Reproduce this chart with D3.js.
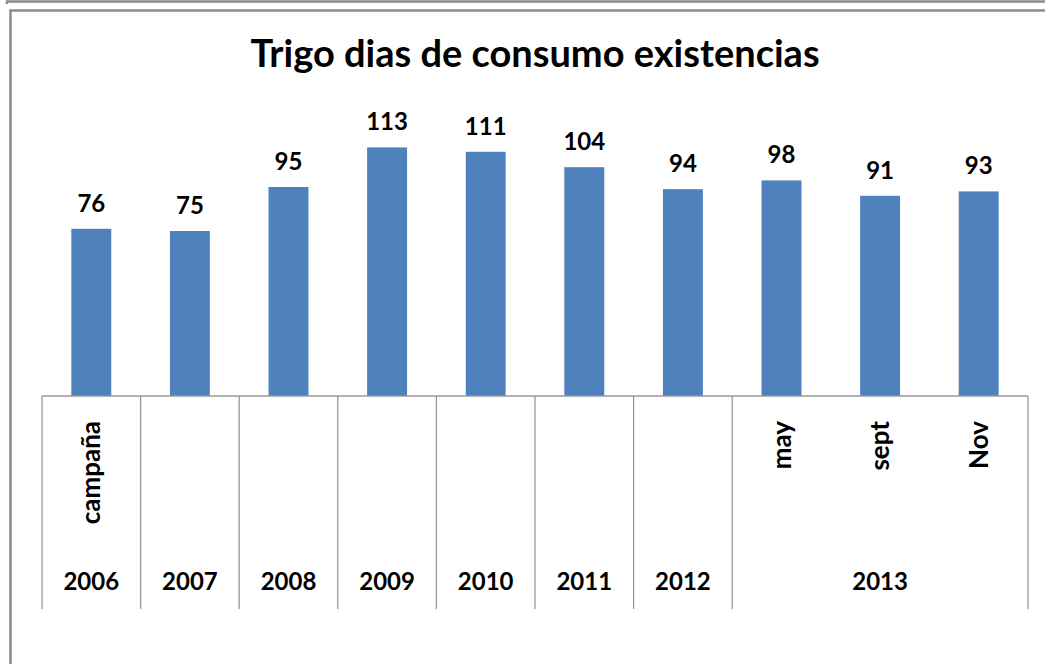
<!DOCTYPE html>
<html lang="es">
<head>
<meta charset="UTF-8">
<title>Trigo dias de consumo existencias</title>
<style>
  body { margin: 0; background: #fff; }
  svg { display: block; font-family: Lato, "Open Sans", sans-serif; }
  .frame { fill: none; stroke: #8c8c8c; stroke-width: 2.5px; }
  .bar { fill: #4f81bd; }
  .val { font-size: 24px; font-weight: bold; fill: #000; text-anchor: middle; }
  .title { font-size: 38px; font-weight: bold; fill: #000; text-anchor: middle; }
  .cat { font-size: 24px; font-weight: bold; fill: #000; }
  .sub { font-size: 26px; }
  .grid { stroke: #999; stroke-width: 1.3px; }
</style>
</head>
<body>
<svg width="1045" height="664"></svg>
<script src="https://d3js.org/d3.v7.min.js"></script>
<script>
// data
var title = "Trigo dias de consumo existencias";
var subLabels = ["campaña", "", "", "", "", "", "", "may", "sept", "Nov"];
var yearOf = ["2006", "2007", "2008", "2009", "2010", "2011", "2012", "2013", "2013", "2013"];
var values = [76, 75, 95, 113, 111, 104, 94, 98, 91, 93];

var svg = d3.select("svg"),
    margin = {left: 42, right: 1028, top: 132, base: 396};

var ids = d3.range(values.length);

var x = d3.scaleBand()
    .domain(ids)
    .range([margin.left, margin.right])
    .paddingInner(0.595)
    .paddingOuter(0.2975);

var x0 = d3.scaleLinear().domain([0, values.length]).range([margin.left, margin.right]);

var y = d3.scaleLinear().domain([0, 120]).range([margin.base, margin.top]);

// frames
svg.append("path").attr("class", "frame")
    .attr("d", "M7,4 V1.5 H1045");
svg.append("path").attr("class", "frame")
    .attr("d", "M10.5,664 V10.5 H1045");

// title
svg.append("text").attr("class", "title")
    .attr("x", 535).attr("y", 67)
    .text(title);

// bars
svg.selectAll(".bar").data(values).enter().append("rect")
    .attr("class", "bar")
    .attr("x", function (d, i) { return x(i); })
    .attr("width", x.bandwidth())
    .attr("y", function (d) { return y(d); })
    .attr("height", function (d) { return y(0) - y(d); });

svg.selectAll(".val").data(values).enter().append("text")
    .attr("class", "val")
    .attr("x", function (d, i) { return x(i) + x.bandwidth() / 2; })
    .attr("y", function (d) { return y(d) - 17; })
    .text(function (d) { return d; });

// category axis
svg.append("line").attr("class", "grid")
    .attr("x1", margin.left).attr("x2", margin.right)
    .attr("y1", margin.base).attr("y2", margin.base);

// group boundaries
var bounds = [0];
yearOf.forEach(function (yr, i) {
  if (i > 0 && yr !== yearOf[i - 1]) bounds.push(i);
});
bounds.push(values.length);

svg.selectAll(".tickline").data(bounds).enter().append("line")
    .attr("class", "grid")
    .attr("x1", function (d) { return x0(d); })
    .attr("x2", function (d) { return x0(d); })
    .attr("y1", margin.base)
    .attr("y2", 609);

// inner level labels
svg.selectAll(".sub").data(subLabels).enter().append("text")
    .attr("class", "cat sub")
    .attr("text-anchor", "end")
    .attr("transform", function (d, i) {
      return "translate(" + (x(i) + x.bandwidth() / 2 + 9) + ",421) rotate(-90)";
    })
    .text(function (d) { return d; });

// outer level labels
var groups = bounds.slice(0, -1).map(function (b, k) {
  return {name: yearOf[b], from: b, to: bounds[k + 1]};
});
svg.selectAll(".year").data(groups).enter().append("text")
    .attr("class", "cat")
    .attr("text-anchor", "middle")
    .attr("x", function (d) { return (x0(d.from) + x0(d.to)) / 2; })
    .attr("y", 590)
    .text(function (d) { return d.name; });
</script>
</body>
</html>
